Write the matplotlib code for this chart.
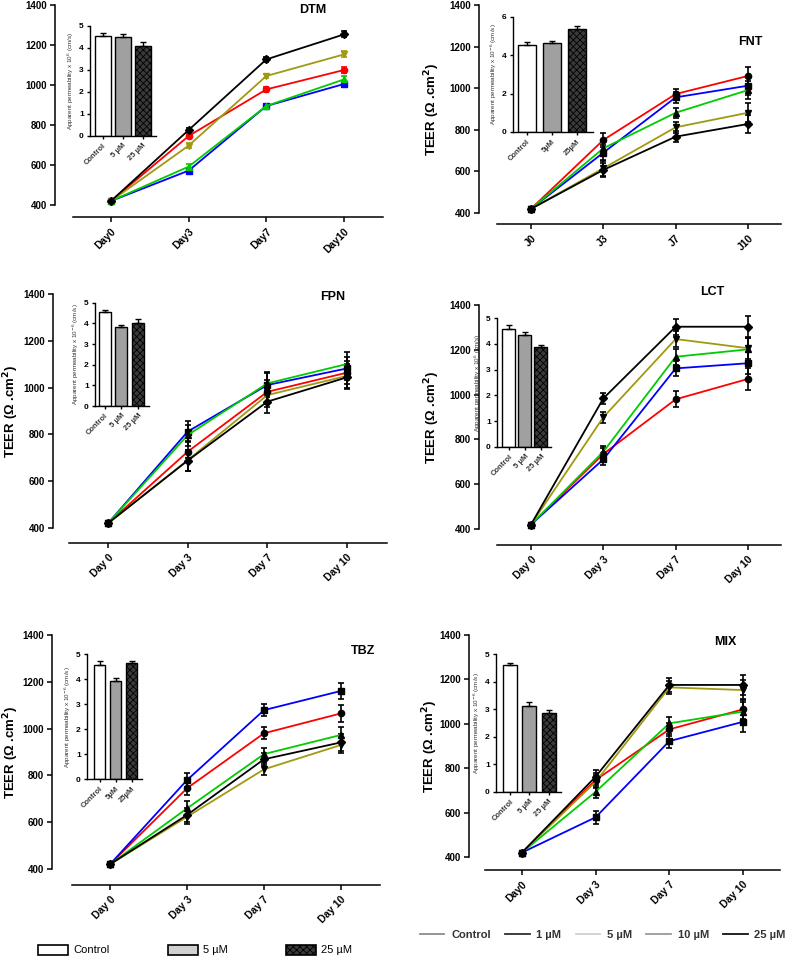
import numpy as np
import matplotlib
matplotlib.use('Agg')
import matplotlib.pyplot as plt
from matplotlib.lines import Line2D
from matplotlib.patches import Patch

plt.rcParams['font.family'] = ['Liberation Sans', 'DejaVu Sans']
plt.rcParams['hatch.linewidth'] = 0.6

W, H = 791, 957

# series order: Control, 1 uM, 5 uM, 10 uM, 25 uM
series = ['Control', '1 µM', '5 µM', '10 µM', '25 µM']
colors = ['#ff0000', '#0000ff', '#00cc00', '#a09a10', '#000000']
markers = ['o', 's', '^', 'v', 'D']

days_dtm = ['Day0', 'Day3', 'Day7', 'Day10']
days_fnt = ['J0', 'J3', 'J7', 'J10']
days_sp = ['Day 0', 'Day 3', 'Day 7', 'Day 10']
days_mix = ['Day0', 'Day 3', 'Day 7', 'Day 10']

# TEER values (ohm.cm2), one list per series
dtm_ctrl = [420, 745, 978, 1075]
dtm_1 = [420, 572, 895, 1005]
dtm_5 = [420, 592, 895, 1028]
dtm_10 = [420, 697, 1045, 1153]
dtm_25 = [420, 775, 1128, 1253]
dtm_err = [5, 12, 12, 15]

fnt_ctrl = [420, 751, 972, 1059]
fnt_1 = [420, 690, 956, 1012]
fnt_5 = [420, 711, 882, 991]
fnt_10 = [420, 615, 812, 882]
fnt_25 = [420, 607, 767, 828]
fnt_err = [5, 35, 25, 45]

fpn_ctrl = [420, 726, 982, 1064]
fpn_1 = [420, 812, 1011, 1082]
fpn_5 = [420, 797, 1018, 1101]
fpn_10 = [420, 690, 968, 1050]
fpn_25 = [420, 688, 940, 1044]
fpn_err = [5, 45, 50, 50]

lct_ctrl = [420, 735, 979, 1070]
lct_1 = [420, 711, 1117, 1140]
lct_5 = [420, 745, 1169, 1202]
lct_10 = [420, 899, 1248, 1207]
lct_25 = [420, 983, 1303, 1303]
lct_err = [5, 25, 35, 50]

tbz_ctrl = [420, 745, 980, 1065]
tbz_1 = [420, 780, 1079, 1161]
tbz_5 = [420, 659, 891, 973]
tbz_10 = [420, 623, 826, 930]
tbz_25 = [420, 631, 869, 941]
tbz_err = [5, 30, 25, 35]

mix_ctrl = [420, 747, 975, 1065]
mix_1 = [420, 579, 922, 1009]
mix_5 = [420, 694, 1002, 1055]
mix_10 = [420, 739, 1164, 1152]
mix_25 = [420, 762, 1175, 1175]
mix_err = [5, 30, 30, 45]

# apparent permeability insets (x10-6 cm/s): Control, 5 uM, 25 uM
bar_names = ['Control', '5 µM', '25 µM']
bar_names_b = ['Control', '5µM', '25µM']
dtm_perm = [4.55, 4.48, 4.10]
dtm_perm_err = [0.12, 0.15, 0.15]
fnt_perm = [4.53, 4.61, 5.35]
fnt_perm_err = [0.15, 0.15, 0.15]
fpn_perm = [4.56, 3.84, 4.00]
fpn_perm_err = [0.1, 0.1, 0.2]
lct_perm = [4.57, 4.35, 3.87]
lct_perm_err = [0.15, 0.1, 0.1]
tbz_perm = [4.57, 3.94, 4.64]
tbz_perm_err = [0.15, 0.1, 0.1]
mix_perm = [4.60, 3.12, 2.87]
mix_perm_err = [0.1, 0.15, 0.1]

fig = plt.figure(figsize=(W / 100, H / 100), dpi=100)


def px_axes(xl, xr, yt, yb):
    return fig.add_axes([xl / W, 1 - yb / H, (xr - xl) / W, (yb - yt) / H])


def main_panel(box, name, title_xy, ticklabels, vals, err, color_markers, ylab_x):
    xl, xr, d0, d10, yt, yb, ysp, xsp = box
    ax = px_axes(xl, xr, yt, yb)
    ax.patch.set_alpha(0)
    sp = (d10 - d0) / 3
    x = np.arange(4)
    for v, c, m in zip(vals, colors, markers):
        mc = c if color_markers else 'black'
        ax.errorbar(x, v, yerr=err, color=c, lw=1.3, marker=m, ms=4.5,
                    mfc=mc, mec=mc, ecolor=mc, elinewidth=1.2, capsize=2.5,
                    capthick=1.2, zorder=3)
    ax.set_xlim((xl - d0) / sp, (xr - d0) / sp)
    ax.set_ylim(400, 1400)
    for s in ['top', 'right']:
        ax.spines[s].set_visible(False)
    ax.spines['left'].set_position(('outward', (xl - ysp) * 0.72))
    ax.spines['bottom'].set_position(('outward', (xsp - yb) * 0.72))
    ax.spines['left'].set_linewidth(1.1)
    ax.spines['bottom'].set_linewidth(1.1)
    ax.set_yticks(np.arange(400, 1401, 200))
    ax.set_xticks(x)
    ax.set_xticklabels(ticklabels, rotation=45, ha='right', rotation_mode='anchor',
                       fontsize=7.5, fontweight='bold')
    ax.tick_params(axis='y', labelsize=7, width=1.1, length=3.5, pad=2.5)
    ax.tick_params(axis='x', width=1.1, length=3.5, pad=3)
    for t in ax.get_yticklabels():
        t.set_fontweight('bold')
    fig.text(title_xy[0] / W, 1 - title_xy[1] / H, name, ha='center', va='center',
             fontsize=9, fontweight='bold')
    if ylab_x is not None:
        ax.set_ylabel('TEER (Ω .cm$^{\\mathbf{2}}$)', fontsize=9.5, fontweight='bold')
        ax.yaxis.set_label_coords((ylab_x - xl) / (xr - xl), 0.5)
    return ax


def inset(box, vals, errs, ymax, step, names, ylabel):
    spine, c0, c2, bw, y0, ytop = box
    sp = (c2 - c0) / 2
    right = c2 + sp * 0.65
    ax = px_axes(spine, right, ytop, y0)
    ax.patch.set_alpha(0)
    xb = np.arange(3)
    fills = ['white', '#a0a0a0', '#3a3a3a']
    hatches = [None, None, 'xxxxx']
    for xi, v, e, f, h in zip(xb, vals, errs, fills, hatches):
        ax.bar(xi, v, width=bw / sp, color=f, edgecolor='black', lw=1.0, hatch=h, zorder=2)
        ax.errorbar(xi, v, yerr=[[0], [e]], color='black', lw=0, elinewidth=1.0,
                    capsize=2.2, capthick=1.0, zorder=3)
    ax.set_xlim((spine - c0) / sp, 2 + 0.65)
    ax.set_ylim(0, ymax)
    for s in ['top', 'right']:
        ax.spines[s].set_visible(False)
    ax.spines['left'].set_linewidth(1.0)
    ax.spines['bottom'].set_linewidth(1.0)
    ax.set_yticks(np.arange(0, ymax + 0.01, step))
    ax.set_xticks(xb)
    ax.set_xticklabels(names, rotation=45, ha='right', rotation_mode='anchor',
                       fontsize=5.5, fontweight='bold', color='#333333')
    ax.tick_params(axis='y', labelsize=6, width=1.0, length=2.5, pad=2)
    ax.tick_params(axis='x', width=1.0, length=2.5, pad=2)
    for t in ax.get_yticklabels():
        t.set_fontweight('bold')
    ax.set_ylabel(ylabel, fontsize=4.5, labelpad=2, color='#333333')
    return ax


lab_m6 = 'Apparent permeability x 10$^{-6}$ (cm/s)'
lab_6 = 'Apparent permeability x 10$^{6}$ (cm/s)'

# DTM
main_panel((73, 383, 111, 344, 5, 205, 55, 217), 'DTM', (313, 10), days_dtm,
           [dtm_ctrl, dtm_1, dtm_5, dtm_10, dtm_25], dtm_err, True, None)
inset((90, 102.5, 142.5, 16, 136, 25.7), dtm_perm, dtm_perm_err, 5, 1, bar_names, lab_6)

# FNT
main_panel((497, 781, 531, 748, 5, 213, 479, 224), 'FNT', (750, 42), days_fnt,
           [fnt_ctrl, fnt_1, fnt_5, fnt_10, fnt_25], fnt_err, False, 442)
inset((513, 526.5, 577, 18, 132, 16.7), fnt_perm, fnt_perm_err, 6, 2, bar_names_b, lab_m6)

# FPN
main_panel((69, 387, 108, 347, 294, 528, 53, 543), 'FPN', (333, 297), days_sp,
           [fpn_ctrl, fpn_1, fpn_5, fpn_10, fpn_25], fpn_err, False, 21)
inset((95, 104.5, 138, 12, 406, 302.7), fpn_perm, fpn_perm_err, 5, 1, bar_names, lab_m6)

# LCT
main_panel((497, 781, 531, 748, 305, 529, 479, 545), 'LCT', (712, 292), days_sp,
           [lct_ctrl, lct_1, lct_5, lct_10, lct_25], lct_err, False, 442)
inset((497, 509, 541, 13, 446.7, 318.3), lct_perm, lct_perm_err, 5, 1, bar_names, lab_6)

# TBZ
main_panel((72, 380, 110, 341, 635, 869, 52, 885), 'TBZ', (363, 651), days_sp,
           [tbz_ctrl, tbz_1, tbz_5, tbz_10, tbz_25], tbz_err, False, 21)
inset((87, 99.5, 131.5, 11, 779, 654.3), tbz_perm, tbz_perm_err, 5, 1, bar_names_b, lab_m6)

# MIX
main_panel((485, 780, 522, 743, 635, 857, 469, 870), 'MIX', (725, 642), days_mix,
           [mix_ctrl, mix_1, mix_5, mix_10, mix_25], mix_err, False, 440)
inset((496, 510, 548.5, 14, 791.7, 654.3), mix_perm, mix_perm_err, 5, 1, bar_names, lab_m6)

# legends
bar_handles = [Patch(facecolor='white', edgecolor='black', lw=1.2),
               Patch(facecolor='#d0d0d0', edgecolor='black', lw=1.2),
               Patch(facecolor='#3a3a3a', edgecolor='black', lw=1.2, hatch='xxxxx')]
fig.legend(bar_handles, bar_names, loc='center left', bbox_to_anchor=(38 / W, 1 - 950 / H),
           ncol=3, frameon=False, fontsize=8, handlelength=2.7, handleheight=1.0,
           handletextpad=0.5, columnspacing=5.2, borderpad=0, borderaxespad=0)

line_grays = ['#8c8c8c', '#2e2e2e', '#d0d0d0', '#9a9a9a', '#111111']
line_handles = [Line2D([0], [0], color=g, lw=1.3) for g in line_grays]
leg = fig.legend(line_handles, series, loc='center left', bbox_to_anchor=(420 / W, 1 - 935 / H),
                 ncol=5, frameon=False, fontsize=8, handlelength=2.2,
                 handletextpad=0.6, columnspacing=1.3, borderpad=0, borderaxespad=0)
for t in leg.get_texts():
    t.set_fontweight('bold')
    t.set_color('#333333')

fig.savefig('out.png', dpi=100)
